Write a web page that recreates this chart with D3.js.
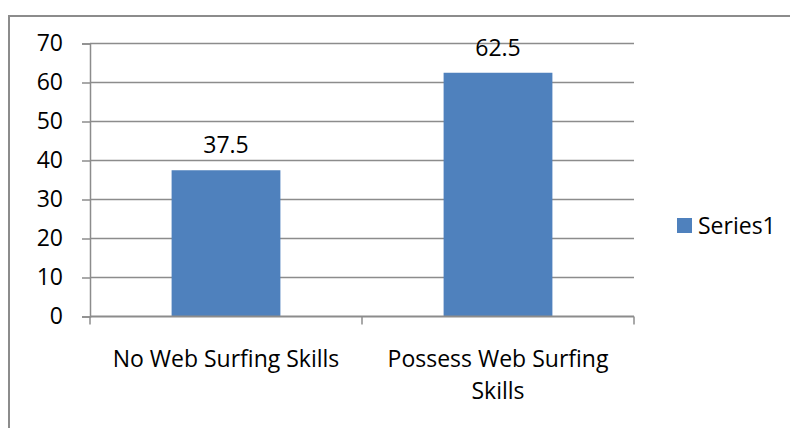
<!DOCTYPE html>
<html>
<head>
<meta charset="utf-8">
<script src="https://cdn.jsdelivr.net/npm/d3@7"></script>
<style>
  html, body { margin: 0; padding: 0; background: #fff; }
  svg { display: block; }
  text { font-family: "Open Sans", "Noto Sans", sans-serif; fill: #000; }
</style>
</head>
<body>
<svg id="chart" width="790" height="428"></svg>
<script>
// Chart data
const categories = ["No Web Surfing Skills", "Possess Web Surfing Skills"];
const series1 = [37.5, 62.5];
const yTicks = [0, 10, 20, 30, 40, 50, 60, 70];
const seriesName = "Series1";

const W = 790, H = 428;
const plot = { left: 90, right: 634, top: 43.5, bottom: 316.5 };
const barColor = "#4F81BD";
const gridColor = "#8C8C8C";
const fontSize = 23;

const svg = d3.select("#chart");

// Outer chart frame (top and left edges visible)
svg.append("path")
  .attr("d", `M9,${H} V16 H${W}`)
  .attr("fill", "none")
  .attr("stroke", "#8C8C8C")
  .attr("stroke-width", 2);

const x = d3.scaleBand()
  .domain(categories)
  .range([plot.left, plot.right])
  .paddingInner(0.6)
  .paddingOuter(0.3);

const xOuter = d3.scaleBand()
  .domain(categories)
  .range([plot.left, plot.right]);

const y = d3.scaleLinear()
  .domain([0, 70])
  .range([plot.bottom, plot.top]);

// Horizontal gridlines
svg.append("g")
  .selectAll("line")
  .data(yTicks.filter(d => d > 0))
  .join("line")
  .attr("x1", plot.left).attr("x2", plot.right)
  .attr("y1", d => y(d)).attr("y2", d => y(d))
  .attr("stroke", gridColor)
  .attr("stroke-width", 1.5);

// Bars
svg.append("g")
  .selectAll("rect")
  .data(series1)
  .join("rect")
  .attr("x", (d, i) => x(categories[i]))
  .attr("width", x.bandwidth())
  .attr("y", d => y(d))
  .attr("height", d => y(0) - y(d))
  .attr("fill", barColor);

// Value labels
svg.append("g")
  .selectAll("text")
  .data(series1)
  .join("text")
  .attr("x", (d, i) => x(categories[i]) + x.bandwidth() / 2)
  .attr("y", d => y(d) - 25)
  .attr("dy", "0.35em")
  .attr("text-anchor", "middle")
  .attr("font-size", fontSize)
  .text(d => d);

// Y axis
const yAxis = svg.append("g")
  .attr("transform", `translate(${plot.left},0)`)
  .call(d3.axisLeft(y).tickValues(yTicks).tickSize(8).tickPadding(19));
yAxis.select(".domain").attr("stroke", gridColor).attr("stroke-width", 1.5);
yAxis.selectAll(".tick line").attr("stroke", gridColor).attr("stroke-width", 1.5);
yAxis.selectAll(".tick text")
  .attr("font-size", fontSize)
  .attr("font-family", "Open Sans, Noto Sans, sans-serif")
  .attr("fill", "#000");

// X axis with category boundary ticks
const xAxisG = svg.append("g");
xAxisG.append("line")
  .attr("x1", plot.left).attr("x2", plot.right)
  .attr("y1", y(0)).attr("y2", y(0))
  .attr("stroke", gridColor).attr("stroke-width", 2);
const boundaries = categories.map(c => xOuter(c)).concat([xOuter(categories[categories.length - 1]) + xOuter.bandwidth()]);
xAxisG.selectAll("line.tick")
  .data(boundaries)
  .join("line")
  .attr("class", "tick")
  .attr("x1", d => d).attr("x2", d => d)
  .attr("y1", y(0)).attr("y2", y(0) + 8)
  .attr("stroke", gridColor).attr("stroke-width", 1.5);

// Category labels (wrapped)
const catLines = [["No Web Surfing Skills"], ["Possess Web Surfing", "Skills"]];
const catG = svg.append("g");
categories.forEach((c, i) => {
  const cx = xOuter(c) + xOuter.bandwidth() / 2;
  catLines[i].forEach((line, j) => {
    catG.append("text")
      .attr("x", cx)
      .attr("y", 359 + j * 32)
      .attr("dy", "0.35em")
      .attr("text-anchor", "middle")
      .attr("font-size", fontSize)
      .text(line);
  });
});

// Legend
const legend = svg.append("g").attr("transform", "translate(677,218)");
legend.append("rect").attr("width", 15).attr("height", 15).attr("fill", barColor);
legend.append("text")
  .attr("x", 21).attr("y", 7.5).attr("dy", "0.35em")
  .attr("font-size", fontSize)
  .text(seriesName);
</script>
</body>
</html>
